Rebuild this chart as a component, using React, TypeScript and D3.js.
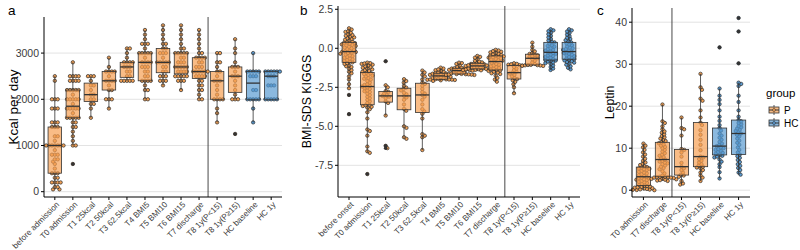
import React from "react";
import * as d3 from "d3";

// ---------- categories ----------
const catsA = ["before admission", "T0 admission", "T1 25kcal", "T2 50kcal", "T3 62.5kcal", "T4 BMI5", "T5 BMI10", "T6 BMI15", "T7 discharge", "T8 1y(P<15)", "T8 1y(P≥15)", "HC baseline", "HC 1y"];
const groupsA = ["P", "P", "P", "P", "P", "P", "P", "P", "P", "P", "P", "HC", "HC"];
const catsB = ["before onset", "T0 admission", "T1 25kcal", "T2 50kcal", "T3 62.5kcal", "T4 BMI5", "T5 BMI10", "T6 BMI15", "T7 discharge", "T8 1y(P<15)", "T8 1y(P≥15)", "HC baseline", "HC 1y"];
const groupsB = groupsA;
const catsC = ["T0 admission", "T7 discharge", "T8 1y(P<15)", "T8 1y(P≥15)", "HC baseline", "HC 1y"];
const groupsC = ["P", "P", "P", "P", "HC", "HC"];

// ---------- tick labels ----------
const ticksA = [0, 1000, 2000, 3000];
const ticksB = [2.5, 0, -2.5, -5, -7.5];
const ticksC = [0, 10, 20, 30, 40];

// ---------- values: Kcal per day ----------
const kcal: number[][] = [
  [50, 50, 100, 100, 200, 200, 200, 200, 300, 300, 400, 400, 400, 500, 600, 650, 700, 700, 800, 800, 800, 900, 1000, 1000, 1000, 1000, 1000, 1000, 1000, 1100, 1200, 1200, 1400, 1400, 1400, 1500, 1500, 1500, 1800, 1800, 1800, 2000, 2000, 2000, 2400, 2500],
  [600, 1000, 1000, 1100, 1200, 1300, 1400, 1400, 1500, 1500, 1600, 1600, 1600, 1600, 1600, 1700, 1800, 1800, 1800, 1800, 1800, 1900, 2000, 2000, 2000, 2000, 2000, 2100, 2200, 2200, 2200, 2200, 2200, 2400, 2400, 2400, 2400, 2500, 2500, 2500, 2500, 2800],
  [1600, 1800, 1900, 1900, 2000, 2000, 2100, 2100, 2200, 2300, 2300, 2400, 2500, 2500, 2500],
  [1800, 2000, 2000, 2000, 2200, 2200, 2300, 2400, 2400, 2400, 2400, 2500, 2600, 2600, 2600, 2600, 2700, 2900],
  [2400, 2400, 2400, 2400, 2400, 2500, 2500, 2600, 2600, 2700, 2700, 2700, 2800, 2800, 2800, 2800, 2900, 3000, 3100, 3100],
  [2000, 2000, 2200, 2200, 2300, 2400, 2400, 2400, 2400, 2500, 2500, 2600, 2600, 2700, 2700, 2700, 2800, 2800, 2800, 2800, 2900, 3000, 3000, 3000, 3000, 3000, 3100, 3200, 3200, 3200, 3300, 3400, 3500],
  [2300, 2400, 2400, 2400, 2500, 2500, 2500, 2600, 2600, 2700, 2700, 2800, 2800, 2800, 2800, 2800, 2900, 3000, 3000, 3000, 3100, 3100, 3200, 3200, 3300, 3400, 3500, 3600],
  [2200, 2400, 2400, 2400, 2500, 2500, 2500, 2500, 2500, 2600, 2600, 2600, 2600, 2700, 2700, 2700, 2700, 2700, 2800, 2800, 2800, 2900, 2900, 3000, 3000, 3000, 3000, 3000, 3100, 3100, 3200, 3300, 3400, 3500, 3600],
  [2000, 2000, 2100, 2200, 2200, 2300, 2300, 2400, 2400, 2500, 2500, 2500, 2500, 2600, 2600, 2600, 2600, 2600, 2600, 2700, 2700, 2700, 2800, 2800, 2900, 2900, 2900, 2900, 3000, 3000, 3100, 3200, 3300, 3400, 3500],
  [1500, 1700, 1800, 2000, 2000, 2000, 2000, 2100, 2200, 2300, 2400, 2400, 2400, 2500, 2600, 2600, 2700, 2800, 2800, 3000, 3000],
  [1250, 2000, 2000, 2000, 2100, 2200, 2300, 2400, 2500, 2500, 2500, 2600, 2700, 2700, 2700, 2800, 3000, 3100, 3300],
  [1500, 1800, 2000, 2000, 2000, 2000, 2000, 2200, 2200, 2500, 2500, 2500, 2600, 2600, 2600, 2600, 2600, 3000],
  [2000, 2000, 2000, 2000, 2000, 2300, 2300, 2300, 2500, 2500, 2500, 2600, 2600, 2600, 2600, 2600, 2600],
];

// ---------- values: BMI-SDS KIGGS ----------
const bmiSds: number[][] = [
  [-4.22, -2.99, -2.56, -2.3, -2.0, -1.8, -1.6, -1.5, -1.4, -1.3, -1.2, -1.15, -1.1, -1.0, -0.95, -0.9, -0.85, -0.8, -0.75, -0.7, -0.65, -0.6, -0.55, -0.5, -0.45, -0.4, -0.35, -0.3, -0.27, -0.24, -0.21, -0.18, -0.15, -0.1, -0.05, 0.0, 0.05, 0.1, 0.15, 0.2, 0.22, 0.25, 0.3, 0.33, 0.36, 0.38, 0.42, 0.5, 0.55, 0.6, 0.65, 0.7, 0.75, 0.8, 0.85, 0.9, 1.0, 1.05, 1.1, 1.2, 1.28],
  [-8.06, -6.7, -6.6, -6.3, -5.6, -5.3, -5.2, -4.5, -4.1, -3.9, -3.8, -3.75, -3.7, -3.65, -3.62, -3.5, -3.4, -3.3, -3.2, -3.1, -3.0, -2.9, -2.8, -2.75, -2.7, -2.6, -2.55, -2.5, -2.45, -2.4, -2.35, -2.3, -2.2, -2.1, -2.0, -1.95, -1.9, -1.8, -1.75, -1.7, -1.65, -1.6, -1.55, -1.5, -1.45, -1.4, -1.35, -1.3, -1.25, -1.2, -1.15, -1.1, -1.05, -1.0, -0.97, -0.95, -0.92],
  [-6.4, -6.25, -4.31, -3.5, -3.4, -3.2, -3.1, -3.05, -3.0, -2.9, -2.8, -2.74, -2.5, -2.37, -0.83],
  [-5.8, -5.7, -5.1, -5.0, -4.0, -3.88, -3.6, -3.3, -3.15, -3.05, -2.95, -2.85, -2.7, -2.6, -2.52, -2.4, -2.2, -2.1, -1.98],
  [-6.52, -5.7, -5.6, -5.5, -4.5, -4.2, -4.04, -3.9, -3.6, -3.3, -3.1, -2.99, -2.9, -2.8, -2.6, -2.4, -2.28, -2.2, -2.0, -1.8, -1.7, -1.55, -1.43],
  [-2.09, -2.05, -2.03, -2.02, -2.01, -2.0, -2.0, -1.99, -1.98, -1.95, -1.92, -1.9, -1.85, -1.82, -1.8, -1.77, -1.75, -1.72, -1.7, -1.68, -1.65, -1.63, -1.61, -1.59, -1.55, -1.5, -1.45, -1.4, -1.35, -1.3, -1.24],
  [-1.71, -1.7, -1.69, -1.68, -1.67, -1.66, -1.65, -1.64, -1.6, -1.55, -1.5, -1.47, -1.45, -1.43, -1.4, -1.38, -1.35, -1.33, -1.3, -1.29, -1.27, -1.25, -1.2, -1.1, -1.0, -0.95, -0.92],
  [-1.43, -1.41, -1.4, -1.38, -1.36, -1.35, -1.34, -1.32, -1.3, -1.28, -1.25, -1.22, -1.2, -1.17, -1.13, -1.1, -1.08, -1.05, -1.02, -1.0, -0.98, -0.96, -0.9, -0.85, -0.8, -0.7, -0.6, -0.55, -0.49],
  [-2.14, -2.0, -1.9, -1.75, -1.65, -1.6, -1.55, -1.5, -1.45, -1.42, -1.39, -1.35, -1.3, -1.25, -1.2, -1.15, -1.1, -1.05, -1.0, -0.92, -0.85, -0.8, -0.76, -0.72, -0.68, -0.64, -0.6, -0.57, -0.54, -0.52, -0.49, -0.45, -0.42, -0.38, -0.35, -0.3, -0.26, -0.22, -0.18, -0.14, -0.1],
  [-2.88, -2.5, -2.3, -2.15, -2.05, -1.97, -1.9, -1.8, -1.7, -1.62, -1.56, -1.5, -1.4, -1.3, -1.2, -1.11, -1.08, -1.05, -1.02, -1.0, -0.96],
  [-1.13, -1.12, -1.1, -1.09, -1.08, -1.07, -1.06, -1.0, -0.9, -0.8, -0.7, -0.64, -0.6, -0.55, -0.5, -0.45, -0.4, -0.36, -0.3, -0.2, -0.1, 0.1, 0.36],
  [-1.39, -1.3, -1.2, -1.1, -1.0, -0.95, -0.9, -0.85, -0.8, -0.78, -0.75, -0.7, -0.65, -0.6, -0.55, -0.5, -0.45, -0.4, -0.35, -0.3, -0.26, -0.2, -0.15, -0.1, -0.05, 0.0, 0.1, 0.15, 0.2, 0.3, 0.38, 0.42, 0.5, 0.6, 0.7, 0.8, 0.9, 1.0, 1.1, 1.15, 1.22],
  [-1.35, -1.25, -1.15, -1.05, -0.98, -0.92, -0.87, -0.82, -0.78, -0.74, -0.7, -0.65, -0.6, -0.55, -0.5, -0.45, -0.4, -0.35, -0.3, -0.25, -0.21, -0.15, -0.1, -0.05, 0.0, 0.05, 0.12, 0.2, 0.25, 0.32, 0.38, 0.45, 0.52, 0.6, 0.68, 0.78, 0.88, 0.98, 1.08, 1.15, 1.22],
];

// ---------- values: Leptin ----------
const leptin: number[][] = [
  [0.0, 0.05, 0.1, 0.15, 0.2, 0.3, 0.4, 0.5, 0.6, 0.7, 0.8, 0.9, 1.0, 1.1, 1.3, 1.5, 1.7, 1.9, 2.0, 2.2, 2.4, 2.5, 2.6, 2.8, 2.9, 3.0, 3.2, 3.4, 3.6, 3.8, 4.0, 4.2, 4.4, 4.6, 4.8, 5.0, 5.1, 5.2, 5.4, 5.5, 5.7, 6.0, 6.3, 6.6, 7.0, 7.5, 8.0, 8.5, 9.0, 9.6, 10.2, 10.6, 11.1],
  [2.2, 2.3, 2.4, 2.5, 2.6, 2.7, 2.8, 2.9, 3.0, 3.0, 3.1, 3.1, 3.2, 3.2, 3.5, 4.0, 4.5, 5.0, 5.3, 5.6, 5.9, 6.2, 6.4, 6.6, 6.8, 7.0, 7.3, 7.6, 7.9, 8.2, 8.5, 8.8, 9.2, 9.6, 10.0, 10.3, 10.6, 10.9, 11.2, 11.4, 11.7, 12.0, 12.3, 12.6, 12.9, 13.3, 13.7, 14.0, 14.5, 15.2, 16.0, 16.4, 20.4],
  [1.35, 1.6, 2.2, 3.2, 3.5, 3.7, 4.2, 4.8, 5.2, 5.6, 6.5, 8.0, 9.0, 9.6, 9.8, 13.0, 14.5, 14.8, 17.3],
  [2.2, 3.0, 3.5, 4.2, 4.8, 5.2, 5.4, 5.6, 5.9, 6.2, 6.6, 7.0, 7.4, 7.8, 8.0, 9.5, 10.8, 12.0, 13.2, 14.3, 15.5, 16.1, 17.3, 19.0, 21.3, 21.8, 23.9, 24.5, 27.7],
  [2.8, 4.3, 5.5, 6.2, 6.8, 7.3, 7.8, 8.0, 8.2, 8.4, 8.7, 8.9, 9.1, 9.4, 9.6, 9.8, 10.0, 10.2, 10.5, 10.8, 11.1, 11.5, 12.0, 12.5, 13.0, 13.5, 14.2, 14.8, 15.5, 16.5, 17.5, 19.0, 20.5, 21.5, 22.5, 24.2, 34.0],
  [3.7, 4.2, 4.8, 5.3, 5.8, 6.2, 6.7, 7.2, 7.7, 8.1, 8.5, 9.0, 9.6, 10.2, 10.8, 11.3, 11.8, 12.3, 12.8, 13.2, 13.5, 13.8, 14.1, 14.4, 14.7, 15.0, 15.3, 15.7, 16.0, 16.4, 16.7, 17.5, 19.0, 21.0, 22.5, 24.8, 25.3, 25.6, 30.2, 37.8, 41.0],
];

const groupNames = ["P", "HC"];

// ---------- styling ----------
const FONT = "'Liberation Sans', Arial, Helvetica, sans-serif";
const dotFill: Record<string, string> = { P: "#F1A055", HC: "#5A9BD2" };
const boxFill: Record<string, string> = { P: "#F6A052", HC: "#5A9BD2" };
const BOX_ALPHA = 0.7;
const INK = "#333333";

function swarm(ys: number[], d: number): number[] {
  const order = ys.map((_, i) => i).sort((a, b) => ys[a] - ys[b]);
  const placed: { x: number; y: number }[] = [];
  const xs = new Array(ys.length).fill(0);
  for (const i of order) {
    const y = ys[i];
    const neigh = placed.filter((p) => Math.abs(p.y - y) < d);
    const cands = [0];
    for (const p of neigh) {
      const dx = Math.sqrt(d * d - (p.y - y) * (p.y - y));
      cands.push(p.x + dx, p.x - dx);
    }
    cands.sort((a, b) => Math.abs(a) - Math.abs(b));
    let best = 0;
    for (const c of cands) {
      if (neigh.every((p) => (p.x - c) ** 2 + (p.y - y) ** 2 >= d * d - 1e-6)) {
        best = c;
        break;
      }
    }
    xs[i] = best;
    placed.push({ x: best, y });
  }
  return xs;
}

function boxStats(vals: number[]) {
  const s = [...vals].sort((a, b) => a - b);
  const q1 = d3.quantile(s, 0.25)!;
  const med = d3.quantile(s, 0.5)!;
  const q3 = d3.quantile(s, 0.75)!;
  const iqr = q3 - q1;
  const lo = d3.min(s.filter((v) => v >= q1 - 1.5 * iqr))!;
  const hi = d3.max(s.filter((v) => v <= q3 + 1.5 * iqr))!;
  const out = s.filter((v) => v < lo || v > hi);
  return { q1, med, q3, lo, hi, out };
}

type PanelProps = {
  letter: string;
  letterX: number;
  cats: string[];
  groups: string[];
  values: number[][];
  ticks: number[];
  fmt: (v: number) => string;
  yDomain: [number, number];
  x0: number;
  x1: number;
  yTop: number;
  yBot: number;
  title: string;
  titleX: number;
  titleSize: number;
  sepIndex: number;
};

function Panel(p: PanelProps) {
  const x = d3.scalePoint<string>().domain(p.cats).range([p.x0, p.x1]).padding(0.6);
  const y = d3.scaleLinear().domain(p.yDomain).range([p.yBot, p.yTop]);
  const step = x.step();
  const bw = step * 0.75;
  const r = 1.7;
  const sepX = (x(p.cats[p.sepIndex])! + x(p.cats[p.sepIndex + 1])!) / 2;
  return (
    <g>
      <text x={p.letterX} y={15} fontSize={13.5} fontFamily={FONT} fill="#000">{p.letter}</text>
      {p.ticks.map((t) => (
        <line key={"g" + t} x1={p.x0} x2={p.x1} y1={y(t)} y2={y(t)} stroke="#E3E3E3" strokeWidth={1} />
      ))}
      <line x1={sepX} x2={sepX} y1={p.yTop} y2={p.yBot} stroke={INK} strokeWidth={0.9} />
      {p.cats.map((c, i) => {
        const cx = x(c)!;
        const g = p.groups[i];
        const vals = p.values[i];
        const ys = vals.map((v) => y(v));
        const offs = swarm(ys, 2.9);
        const st = boxStats(vals);
        return (
          <g key={c}>
            {vals.map((v, j) => (
              <circle key={j} cx={cx + offs[j]} cy={ys[j]} r={r} fill={dotFill[g]} stroke="#2a2a2a" strokeWidth={0.7} />
            ))}
            <line x1={cx} x2={cx} y1={y(st.q3)} y2={y(st.hi)} stroke={INK} strokeWidth={0.8} />
            <line x1={cx} x2={cx} y1={y(st.q1)} y2={y(st.lo)} stroke={INK} strokeWidth={0.8} />
            <rect x={cx - bw / 2} y={y(st.q3)} width={bw} height={Math.max(0.5, y(st.q1) - y(st.q3))} fill={boxFill[g]} fillOpacity={BOX_ALPHA} stroke={INK} strokeWidth={0.8} />
            <line x1={cx - bw / 2} x2={cx + bw / 2} y1={y(st.med)} y2={y(st.med)} stroke={INK} strokeWidth={1.3} />
            {st.out.map((v, j) => (
              <circle key={"o" + j} cx={cx} cy={y(v)} r={1.8} fill="#333" />
            ))}
          </g>
        );
      })}
      {/* y axis */}
      <line x1={p.x0} x2={p.x0} y1={p.yTop} y2={p.yBot} stroke="#000" strokeWidth={1} />
      {p.ticks.map((t) => (
        <g key={"t" + t}>
          <line x1={p.x0 - 3} x2={p.x0} y1={y(t)} y2={y(t)} stroke="#000" strokeWidth={1} />
          <text x={p.x0 - 5} y={y(t)} dy="0.35em" textAnchor="end" fontSize={10.5} fontFamily={FONT} fill="#3a3a3a">{p.fmt(t)}</text>
        </g>
      ))}
      {/* x axis */}
      <line x1={p.x0} x2={p.x1} y1={p.yBot} y2={p.yBot} stroke="#000" strokeWidth={1} />
      {p.cats.map((c) => (
        <g key={"x" + c}>
          <line x1={x(c)!} x2={x(c)!} y1={p.yBot} y2={p.yBot + 3} stroke="#000" strokeWidth={1} />
          <text transform={`translate(${x(c)! + 3},${p.yBot + 6}) rotate(-45)`} textAnchor="end" dy="0.35em" fontSize={8.2} fontFamily={FONT} fill="#3a3a3a">{c}</text>
        </g>
      ))}
      <text transform={`translate(${p.titleX},${(p.yTop + p.yBot) / 2}) rotate(-90)`} textAnchor="middle" fontSize={p.titleSize} fontFamily={FONT} fill="#000">{p.title}</text>
    </g>
  );
}

function LegendKey({ g, y }: { g: string; y: number }) {
  const x = 774;
  return (
    <g>
      <line x1={x} x2={x} y1={y - 5} y2={y + 5} stroke={INK} strokeWidth={0.8} />
      <rect x={x - 5} y={y - 3} width={10} height={6} fill={boxFill[g]} fillOpacity={BOX_ALPHA} stroke={INK} strokeWidth={0.8} />
      <line x1={x - 5} x2={x + 5} y1={y} y2={y} stroke={INK} strokeWidth={1} />
      <circle cx={x} cy={y} r={1.5} fill={dotFill[g]} stroke="#2a2a2a" strokeWidth={0.5} />
    </g>
  );
}

export default function App() {
  const fmtA = (v: number) => String(v);
  const fmtB = (v: number) => d3.format(".1f")(v).replace("−", "-");
  const fmtC = (v: number) => String(v);
  return (
    <svg width={800} height={250} style={{ position: "absolute", left: 0, top: 0, background: "#fff" }}>
      <rect width={800} height={250} fill="#fff" />
      <Panel letter="a" letterX={8} cats={catsA} groups={groupsA} values={kcal} ticks={ticksA} fmt={fmtA}
        yDomain={[-115, 3781]} x0={44} x1={282} yTop={17} yBot={197} title="Kcal per day" titleX={18} titleSize={13.5} sepIndex={8} />
      <Panel letter="b" letterX={300} cats={catsB} groups={groupsB} values={bmiSds} ticks={ticksB} fmt={fmtB}
        yDomain={[-9.53, 2.71]} x0={338} x1={580} yTop={6} yBot={197} title="BMI-SDS KIGGS" titleX={311} titleSize={12.3} sepIndex={8} />
      <Panel letter="c" letterX={597} cats={catsC} groups={groupsC} values={leptin} ticks={ticksC} fmt={fmtC}
        yDomain={[-1.62, 43.38]} x0={632} x1={750} yTop={8} yBot={197} title="Leptin" titleX={614} titleSize={12.3} sepIndex={1} />
      <text x={766} y={97} fontSize={11.5} fontFamily={FONT} fill="#000">group</text>
      {groupNames.map((g, i) => (
        <g key={g}>
          <LegendKey g={g} y={110 + i * 13} />
          <text x={784} y={110 + i * 13} dy="0.35em" fontSize={10} fontFamily={FONT} fill="#000">{g}</text>
        </g>
      ))}
    </svg>
  );
}
